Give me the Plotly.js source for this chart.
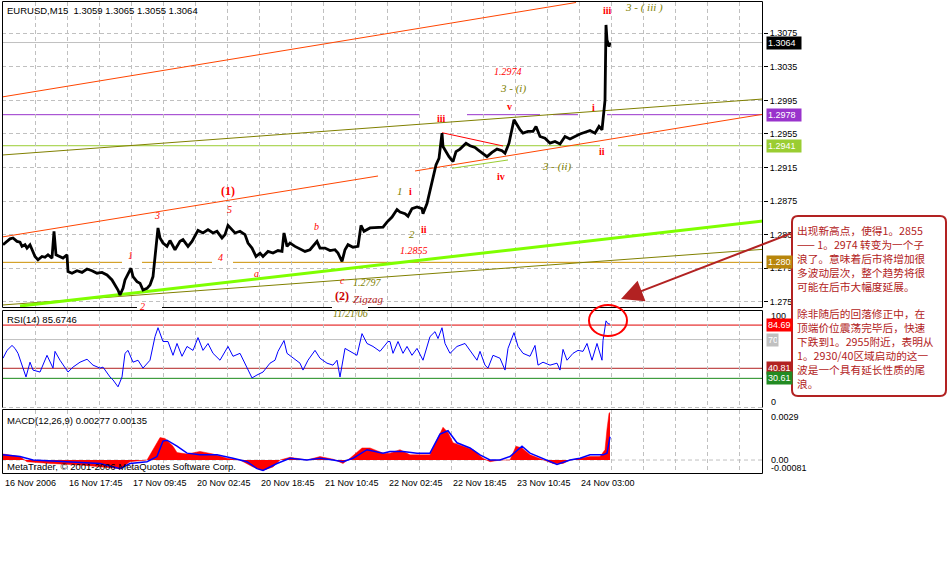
<!DOCTYPE html>
<html><head><meta charset="utf-8">
<script src="https://cdn.plot.ly/plotly-3.0.1.min.js"></script>
<style>html,body{margin:0;padding:0;background:#fff}#chart{width:952px;height:577px}</style>
</head><body><div id="chart"></div>
<script>
// ================= DATA =================
// bar index (1 bar = 1 screen column, first visible bar = 3)
const priceBars = [3,7,10,13,17,20,22,25,27,30,33,35,38,42,45,48,52,54,56,60,63,67,68,72,77,82,87,92,97,102,107,112,115,118,120,123,125,128,131,133,137,140,143,147,150,153,155,157,158,160,163,167,170,175,180,183,188,192,195,198,203,208,213,217,222,225,228,232,235,240,245,248,252,256,260,263,268,273,278,282,284,287,290,295,300,305,310,313,317,320,325,330,335,338,342,345,348,353,358,361,364,370,377,383,387,392,397,400,405,408,412,417,422,423,427,430,433,436,439,442,443,446,449,453,456,460,466,470,475,478,483,487,492,497,502,505,509,512,514,517,520,523,528,533,536,540,545,550,555,560,565,570,575,580,585,590,595,599,602,603,605,606,607,609,610];
const priceVals = [1.2823,1.2827,1.2830,1.2831,1.2827,1.2826,1.2821,1.2823,1.2819,1.2823,
1.2815,1.2809,1.2805,1.2809,1.2808,1.2811,1.2807,1.2839,1.2811,1.2809,
1.2807,1.2811,1.2791,1.2789,1.2792,1.2790,1.2794,1.2792,1.2789,1.2790,
1.2787,1.2781,1.2775,1.2769,1.2763,1.2771,1.2781,1.2789,1.2795,1.2785,
1.2779,1.2777,1.2769,1.2771,1.2775,1.2785,1.2807,1.2835,1.2843,1.2831,
1.2825,1.2821,1.2828,1.2817,1.2827,1.2829,1.2821,1.2827,1.2833,1.2840,
1.2837,1.2841,1.2837,1.2839,1.2831,1.2835,1.2846,1.2841,1.2837,1.2839,
1.2835,1.2825,1.2819,1.2809,1.2813,1.2809,1.2815,1.2813,1.2816,1.2815,
1.2837,1.2821,1.2825,1.2821,1.2818,1.2815,1.2817,1.2821,1.2827,1.2819,
1.2819,1.2816,1.2817,1.2813,1.2803,1.2817,1.2823,1.2820,1.2821,1.2846,
1.2839,1.2843,1.2844,1.2844,1.2850,1.2856,1.2865,1.2862,1.2860,1.2857,
1.2866,1.2868,1.2866,1.2860,1.2872,1.2888,1.2904,1.2918,1.2926,1.2956,
1.2940,1.2934,1.2928,1.2922,1.2934,1.2937,1.2944,1.2941,1.2939,1.2936,
1.2932,1.2928,1.2933,1.2937,1.2935,1.2932,1.2944,1.2962,1.2972,1.2966,
1.2960,1.2956,1.2958,1.2958,1.2964,1.2952,1.2950,1.2944,1.2946,1.2943,
1.2952,1.2949,1.2952,1.2955,1.2957,1.2959,1.2956,1.2964,1.2960,1.2972,
1.2995,1.3085,1.3067,1.3059,1.3064];

const rsiBars = [3,7,12,15,18,22,26,30,33,40,47,53,55,60,68,73,80,87,93,100,103,110,113,118,122,125,128,133,138,143,150,155,158,163,168,173,177,182,187,193,198,203,208,213,220,228,233,240,247,252,257,263,270,275,278,284,287,293,300,303,308,315,320,327,333,337,340,345,350,357,362,367,373,380,388,390,393,398,403,407,412,417,423,430,435,438,442,445,450,457,465,472,477,480,485,488,493,500,505,508,514,518,523,530,535,538,543,550,557,560,563,567,573,578,583,587,592,597,602,603,605,606,608,610];
const rsiVals = [51,59,64,61,56,44,32,47,39,37,54,41,58,49,37,42,47,50,44,41,42,32,29,22,32,56,59,47,49,41,49,73,82,68,68,54,66,53,63,59,72,59,66,56,49,63,53,56,42,31,34,37,46,49,58,69,56,51,46,39,49,59,51,46,44,49,32,61,58,54,76,66,63,58,68,68,56,68,56,63,54,61,49,73,78,71,82,66,56,63,66,56,49,58,44,41,54,51,39,61,77,63,56,53,64,44,47,44,46,39,60,49,56,59,58,66,49,66,49,69,83,89,86,85.67];

const macdBars = [3,20,27,50,83,113,120,130,147,157,160,165,173,177,187,200,213,227,240,253,263,273,280,290,307,320,333,343,350,362,370,383,390,400,410,430,437,443,448,453,463,473,483,490,500,510,516,522,530,543,553,563,570,580,590,600,605,607,609,610];
const macdVals = [0.00035,0.0002,-0.0001,-0.0002,-0.0003,-0.00047,-0.0005,-0.0001,0,0.001,
0.0013,0.00125,0.0008,0.00043,0.00035,0.0005,0.00035,0.0001,0,-0.0004,
-0.0006,-0.0004,0,0.00016,0,0.0002,0.00005,-0.0002,0.0001,0.0007,
0.0007,0.0004,0.0004,0.0006,0.0003,0.0003,0.0012,0.0019,0.0016,0.001,
0.0008,0.0006,0.0001,-0.0001,0,0,0.0008,0.0007,0.0003,0,
-0.0002,-0.0002,0,0.0001,0.0002,0.0002,0.0006,0.0018,0.0027,0.00277];

const signalBars = [3,20,33,67,100,120,130,147,157,163,167,177,187,200,217,233,247,257,263,277,290,307,320,333,343,353,367,383,390,403,417,430,440,448,457,470,480,490,500,510,522,530,543,557,570,580,590,603,607,609,610];
const signalVals = [0.0003,0.0002,0,-0.0001,-0.0002,-0.0005,-0.0002,-0.0001,0.0002,0.0011,
0.00115,0.0008,0.0004,0.0003,0.0003,0.0001,-0.0001,-0.0005,-0.0006,-0.0002,
0.0001,0,0.0001,0,-0.0001,0.0001,0.0006,0.0004,0.0005,0.0005,
0.0004,0.0004,0.0015,0.0017,0.001,0.0007,0.0003,0,0,0.0002,
0.0008,0.0004,0.0001,-0.00025,0,0.0001,0.0003,0.0003,0.0004,0.0012,0.00135];

const priceTicks = [1.2755,1.2795,1.2835,1.2875,1.2915,1.2955,1.2995,1.3035,1.3075];
const dateTickBars = [3,67,131,195,259,323,387,451,515,579];
const dateTickLabels = ["16 Nov 2006","16 Nov 17:45","17 Nov 09:45","20 Nov 02:45","20 Nov 18:45","21 Nov 10:45","22 Nov 02:45","22 Nov 18:45","23 Nov 10:45","24 Nov 03:00"];

const priceLevels = [1.3064, 1.2978, 1.2941, 1.2802];
const rsiLevels = [84.69, 70, 40.81, 30.61];

// trend lines: start bar, start price, end bar, end price
const trendStartBar  = [2, 2, 415, 2, 2, 20, 442, 452];
const trendStartPx   = [1.29991, 1.28322, 1.29109, 1.29299, 1.27511, 1.27499, 1.29565, 1.29141];
const trendEndBar    = [576, 378, 763, 763, 763, 763, 503, 508];
const trendEndPx     = [1.31117, 1.29049, 1.29785, 1.29967, 1.28175, 1.28513, 1.29407, 1.29240];

// wave labels
const waveText  = ["(1)","3","5","1","4","b","a","2","iii","1.2974","3 - (i)","v","i","ii","3 - (ii)","iv","1","i","ii","2","1.2855","c","1.2797","(2)","Zigzag","iii","3 - ( iii )"];
const waveBar   = [227.5,156.7,229,130,220,316,256,142.7,441.7,508.3,513,509,593,601.7,556.7,500.7,400,410.7,424.3,411.7,414.3,342.7,367.7,341.7,368.3,607.3,644];
const wavePrice = [1.28874,1.28584,1.28652,1.28107,1.2808,1.28445,1.27881,1.27491,1.29737,1.30292,1.30094,1.29883,1.29863,1.29339,1.29168,1.29041,1.2887,1.2887,1.28414,1.28354,1.28167,1.27809,1.27777,1.27619,1.27579,1.31019,1.31052];

const headerMain = "EURUSD,M15\u00a0\u00a01.3059 1.3065 1.3055 1.3064";
const headerRsi = "RSI(14) 85.6746";
const headerMacd = "MACD(12,26,9) 0.00277 0.00135";
const copyright = "MetaTrader, \u00a9 2001-2006 MetaQuotes Software Corp.";
const rsiDateLabel = "11/21/06";
const noteLines = ["出现新高点，使得1。2855","—— 1。2974 转变为一个子","浪了。意味着后市将增加很","多波动层次，整个趋势将很","可能在后市大幅度延展。","","除非随后的回落修正中，在","顶端价位震荡完毕后，快速","下跌到1。2955附近，表明从","1。2930/40区域启动的这一","波是一个具有延长性质的尾","浪。"];

// ================= STYLE / LAYOUT =================
const SANS = 'Liberation Sans, Arial, sans-serif';
const SERIF = 'Liberation Serif, Times New Roman, serif';
const CJK = 'Noto Sans CJK SC, sans-serif';
const PL = 2, PR = 763, PT = 2, PB = 474;
const fx = x => (x - PL) / (PR - PL);
const fy = y => (PB - y) / (PB - PT);
const GRID = '#c0c0c0', DASH = '4px,3px';

const traces = [
  {type:'scatter', mode:'lines', x:priceBars, y:priceVals, xaxis:'x', yaxis:'y', line:{color:'#000', width:2.8}},
  {type:'scatter', mode:'lines', x:rsiBars, y:rsiVals, xaxis:'x2', yaxis:'y2', line:{color:'#0000ff', width:1}},
  {type:'scatter', mode:'lines', x:macdBars, y:macdVals, xaxis:'x3', yaxis:'y3', fill:'tozeroy', fillcolor:'#ff0000', line:{color:'#ff0000', width:0.5}},
  {type:'scatter', mode:'lines', x:signalBars, y:signalVals, xaxis:'x3', yaxis:'y3', line:{color:'#0000ff', width:1.5}}
];

const shapes = [];
const levelColors = ['#c0c0c0', '#9933cc', '#9acd32', '#cc9000'];
priceLevels.forEach((v, i) => shapes.push({type:'line', layer:'between', xref:'paper', yref:'y', x0:0, x1:1, y0:v, y1:v, line:{color:levelColors[i], width:1}}));
const trendColors = ['#ff4500','#ff4500','#ff4500','#808000','#808000','#7fff00','#ff0000','#9acd32'];
const trendWidths = [1,1,1,1,1,3,1,1];
trendStartBar.forEach((b, i) => shapes.push({type:'line', layer:'between', xref:'x', yref:'y', x0:b, y0:trendStartPx[i], x1:trendEndBar[i], y1:trendEndPx[i], line:{color:trendColors[i], width:trendWidths[i]}}));
const gapBoxes = [[122,142,259,266],[212,233,259,266],[147,173,206,217],[252,272,272,292],[333,352,276,284],[419,467,110,128],[540,553,111,118],[578,607,108,116],[600,618,142,149]];
gapBoxes.forEach(g => shapes.push({type:'rect', layer:'between', xref:'paper', yref:'paper', x0:fx(g[0]), x1:fx(g[1]), y0:fy(g[3]), y1:fy(g[2]), fillcolor:'#fff', line:{width:0}}));
const rsiColors = ['#e00000', '#c0c0c0', '#b22222', '#1a8a1a'];
rsiLevels.forEach((v, i) => shapes.push({type:'line', layer:'between', xref:'paper', yref:'y2', x0:0, x1:1, y0:v, y1:v, line:{color:rsiColors[i], width:1}}));
shapes.push({type:'line', layer:'below', xref:'paper', yref:'y3', x0:0, x1:1, y0:0, y1:0, line:{color:GRID, width:1, dash:DASH}});
shapes.push({type:'line', layer:'above', xref:'paper', yref:'paper', x0:fx(2), x1:fx(763), y0:fy(407.5), y1:fy(407.5), line:{color:GRID, width:1, dash:DASH}});
const borderLine = {color:'#000', width:1};
shapes.push({type:'rect', layer:'above', xref:'paper', yref:'paper', x0:fx(2.5), x1:fx(762.5), y0:fy(307.5), y1:fy(1.5), line:borderLine});
shapes.push({type:'path', layer:'above', xref:'paper', yref:'paper', path:`M${fx(2.5)},${fy(407.5)} L${fx(2.5)},${fy(310.5)} L${fx(762.5)},${fy(310.5)} L${fx(762.5)},${fy(407.5)}`, line:borderLine});
shapes.push({type:'rect', layer:'above', xref:'paper', yref:'paper', x0:fx(2.5), x1:fx(762.5), y0:fy(473.5), y1:fy(409.5), line:borderLine});
[[137,162],[332,368]].forEach(g => shapes.push({type:'rect', layer:'above', xref:'paper', yref:'paper', x0:fx(g[0]), x1:fx(g[1]), y0:fy(309), y1:fy(305), fillcolor:'#fff', line:{width:0}}));
shapes.push({type:'circle', layer:'above', xref:'paper', yref:'paper', x0:fx(589), x1:fx(627), y0:fy(336), y1:fy(305), line:{color:'#ff0000', width:2}});
(function(){
  const x0=792, y0=216, x1=946, y1=396, r=6;
  const P = (x,y) => `${fx(x)},${fy(y)}`;
  const path = `M${P(x0+r,y0)} L${P(x1-r,y0)} Q${P(x1,y0)} ${P(x1,y0+r)} L${P(x1,y1-r)} Q${P(x1,y1)} ${P(x1-r,y1)} L${P(x0+r,y1)} Q${P(x0,y1)} ${P(x0,y1-r)} L${P(x0,y0+r)} Q${P(x0,y0)} ${P(x0+r,y0)} Z`;
  shapes.push({type:'path', layer:'above', xref:'paper', yref:'paper', path:path, fillcolor:'#fff', line:{color:'#b22222', width:2}});
})();

const ann = [];
const add = o => ann.push(Object.assign({showarrow:false, xref:'paper', yref:'paper'}, o));
add({x:fx(5), y:fy(11), xanchor:'left', yanchor:'middle', text:headerMain, font:{family:SANS, size:9.5, color:'#000'}});
add({x:fx(5), y:fy(319.5), xanchor:'left', yanchor:'middle', text:headerRsi, font:{family:SANS, size:9.5, color:'#000'}});
add({x:fx(5), y:fy(420.5), xanchor:'left', yanchor:'middle', text:headerMacd, font:{family:SANS, size:9.5, color:'#000'}});
add({x:fx(5), y:fy(466), xanchor:'left', yanchor:'middle', text:copyright, font:{family:SANS, size:9.5, color:'#000'}});
dateTickBars.forEach((b, i) => add({xref:'x3', x:b, y:fy(483.5), xanchor:'left', yanchor:'middle', text:dateTickLabels[i], font:{family:SANS, size:9, color:'#000'}}));
[['100',316],['0',402],['0.0029',417],['0.00',459.5],['-0.00081',468]].forEach(t => add({x:fx(769), y:fy(t[1]), xanchor:'left', yanchor:'middle', text:t[0], font:{family:SANS, size:9, color:'#000'}}));
const levelBg = ['#000000', '#9933cc', '#9acd32', '#b8860b'];
const levelW = [32, 32, 32, 23];
priceLevels.forEach((v, i) => add({x:fx(766), yref:'y', y:v, xanchor:'left', yanchor:'middle', text:v.toFixed(4), width:levelW[i], height:10, align:'left', borderpad:1, bgcolor:levelBg[i], font:{family:SANS, size:9, color:'#fff'}}));
const rsiBg = ['#ff0000', '#c0c0c0', '#b22222', '#228b22'];
const rsiW = [23, 9, 23, 23];
rsiLevels.forEach((v, i) => add({x:fx(766), yref:'y2', y:v, xanchor:'left', yanchor:'middle', text:(v === 70 ? '70' : v.toFixed(2)), width:rsiW[i], height:10, align:'left', borderpad:1, bgcolor:rsiBg[i], font:{family:SANS, size:9, color:'#fff'}}));
const RED = '#ff0000', OLIVE = '#808000';
const waveStyle = ['b12r','i','i','i','i','i','i','i','b','i','io','b','b','b','io','b','io','b','b','io','i','i','io','b12d','iz','b','io'];
waveText.forEach((t, i) => {
  const s = waveStyle[i];
  let color = RED, size = 10, txt = '<i>' + t + '</i>';
  if (s[0] === 'b') { txt = '<b>' + t + '</b>'; }
  if (s === 'b12r') { size = 12; }
  if (s === 'b12d') { size = 12; color = '#cc0000'; }
  if (s === 'io') { color = OLIVE; size = 11; }
  if (s === 'iz') { color = '#b22222'; size = 11; }
  if (t.indexOf('.') > 0) size = 10;
  add({xref:'x', yref:'y', x:waveBar[i], y:wavePrice[i], xanchor:'center', yanchor:'middle', text:txt, font:{family:SERIF, size:size, color:color}});
});
add({xref:'x2', yref:'y2', x:350, y:96.5, xanchor:'center', yanchor:'middle', text:'<i>' + rsiDateLabel + '</i>', font:{family:SERIF, size:10, color:OLIVE}});
// note text as one block (line spacing = 1.3 x font size = ~13.9px)
add({x:fx(795), y:fy(221), xanchor:'left', yanchor:'top', align:'left', text:noteLines.join('<br>'), font:{family:CJK, size:10.7, color:'#b22222'}});
add({x:fx(621), y:fy(299), text:'', showarrow:true, ax:171, ay:-66, arrowhead:2, arrowsize:2.2, arrowwidth:2, arrowcolor:'#b22222'});

const xBase = {range:[2,763], showticklabels:false, showgrid:true, tick0:3, dtick:32, gridcolor:GRID, griddash:DASH, gridwidth:1, zeroline:false, showline:false, ticks:''};
const layout = {
  width:952, height:577, margin:{l:2, r:189, t:2, b:103, pad:0},
  paper_bgcolor:'#fff', plot_bgcolor:'#fff', showlegend:false, hovermode:false,
  xaxis: Object.assign({anchor:'y'}, xBase),
  xaxis2: Object.assign({anchor:'y2', matches:'x'}, xBase),
  xaxis3: Object.assign({anchor:'y3', matches:'x'}, xBase),
  yaxis: {domain:[0.35381, 1], anchor:'x', range:[1.274875, 1.311231], side:'right', tickmode:'array', tickvals:priceTicks, ticktext:priceTicks.map(v => v.toFixed(4)), ticks:'outside', ticklen:4, tickcolor:'#000', tickfont:{family:SANS, size:9, color:'#000'}, showgrid:true, gridcolor:GRID, griddash:DASH, zeroline:false, showline:false},
  yaxis2: {domain:[0.140890, 0.347458], anchor:'x2', range:[1, 100], showticklabels:false, showgrid:false, zeroline:false, ticks:''},
  yaxis3: {domain:[0, 0.135593], anchor:'x3', range:[-0.00081, 0.0029], showticklabels:false, showgrid:false, zeroline:false, ticks:''},
  shapes: shapes,
  annotations: ann
};
Plotly.newPlot('chart', traces, layout, {staticPlot:true, displayModeBar:false});
</script>
</body></html>
